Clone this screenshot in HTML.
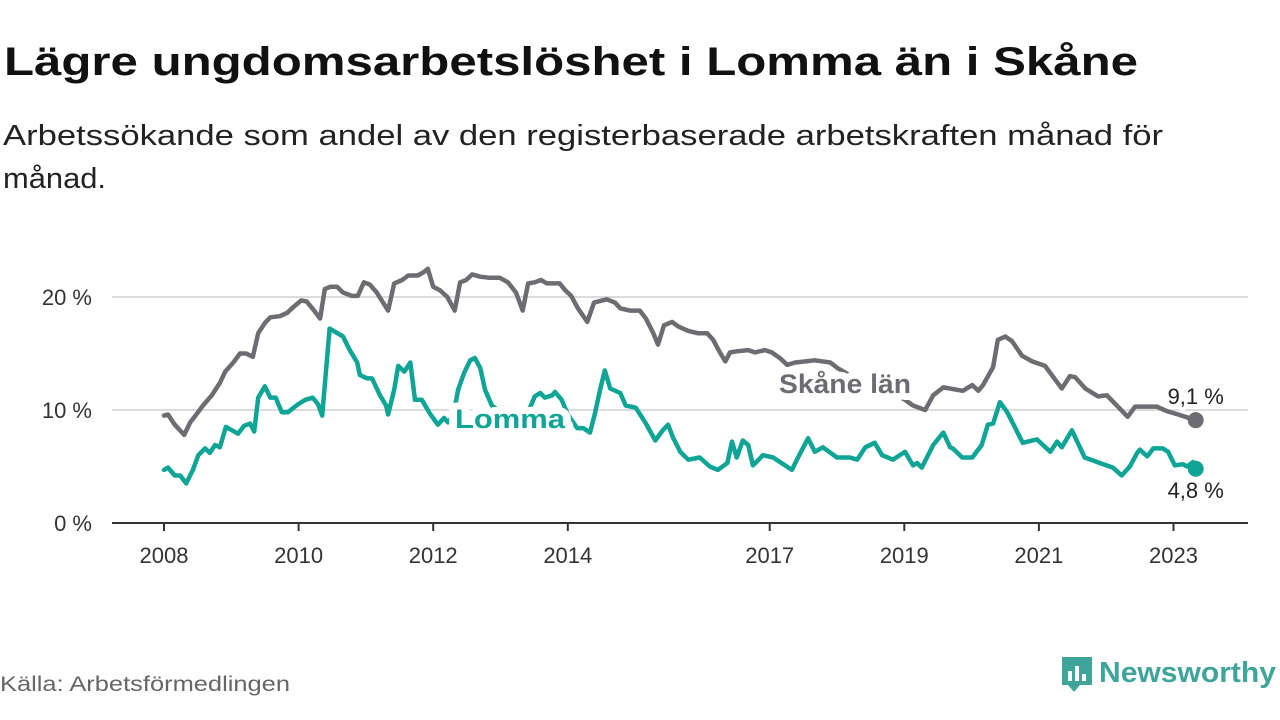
<!DOCTYPE html>
<html><head><meta charset="utf-8"><style>
html,body{margin:0;padding:0;background:#fff;width:1280px;height:720px;overflow:hidden}
svg{display:block;font-family:"Liberation Sans",sans-serif}
</style></head><body>
<svg id="chart" width="1280" height="720" viewBox="0 0 1280 720">
<text x="4" y="75" font-size="40" font-weight="bold" fill="#111" textLength="1134" lengthAdjust="spacingAndGlyphs">Lägre ungdomsarbetslöshet i Lomma än i Skåne</text>
<text x="3" y="145" font-size="29" fill="#222" textLength="1160" lengthAdjust="spacingAndGlyphs">Arbetssökande som andel av den registerbaserade arbetskraften månad för</text>
<text x="3" y="188" font-size="29" fill="#222" textLength="103" lengthAdjust="spacingAndGlyphs">månad.</text>
<g id="grid"></g><g id="axes"></g><g id="series"></g><g id="labels"></g>
<text x="0" y="691" font-size="21" fill="#666" textLength="290" lengthAdjust="spacingAndGlyphs">Källa: Arbetsförmedlingen</text>
<g>
<path d="M1062 657 h30 v28 h-12 l-6 7 l-6 -7 h-6 z" fill="#3fa59b"/>
<rect x="1068" y="671" width="4" height="10" fill="#fff"/><rect x="1075" y="666" width="4" height="15" fill="#fff"/><rect x="1082" y="674" width="4" height="7" fill="#fff"/>
<text x="1099" y="682" font-size="29" font-weight="bold" fill="#3fa59b" textLength="177" lengthAdjust="spacingAndGlyphs">Newsworthy</text>
</g>
</svg>
<script>
const yTicks=[0,10,20];
const yTickLabels=["0 %","10 %","20 %"];
const xTicks=[2008,2010,2012,2014,2017,2019,2021,2023];
const skaneDates=[2008.0,2008.06,2008.16,2008.30,2008.39,2008.48,2008.58,2008.71,2008.83,2008.91,2009.03,2009.13,2009.22,2009.32,2009.40,2009.50,2009.58,2009.72,2009.83,2009.92,2010.04,2010.12,2010.23,2010.32,2010.39,2010.47,2010.57,2010.66,2010.79,2010.88,2010.97,2011.06,2011.16,2011.33,2011.42,2011.54,2011.63,2011.77,2011.86,2011.92,2012.00,2012.10,2012.21,2012.32,2012.40,2012.49,2012.58,2012.70,2012.84,2012.99,2013.11,2013.23,2013.33,2013.41,2013.51,2013.60,2013.69,2013.81,2013.88,2013.96,2014.05,2014.15,2014.29,2014.39,2014.58,2014.70,2014.78,2014.92,2015.07,2015.16,2015.27,2015.34,2015.43,2015.55,2015.64,2015.79,2015.93,2016.07,2016.16,2016.26,2016.34,2016.41,2016.53,2016.68,2016.78,2016.93,2017.03,2017.15,2017.26,2017.38,2017.67,2017.90,2018.01,2018.27,2018.49,2018.71,2018.89,2019.01,2019.13,2019.31,2019.43,2019.58,2019.87,2020.01,2020.10,2020.17,2020.32,2020.39,2020.50,2020.60,2020.75,2020.90,2021.09,2021.34,2021.46,2021.54,2021.69,2021.88,2022.01,2022.32,2022.43,2022.75,2022.90,2023.07,2023.33];
const skaneValues=[9.5,9.6,8.7,7.8,8.9,9.6,10.4,11.3,12.4,13.4,14.2,15.0,15.0,14.7,16.8,17.7,18.2,18.3,18.6,19.1,19.7,19.6,18.8,18.1,20.7,20.9,20.9,20.4,20.1,20.1,21.3,21.1,20.4,18.8,21.2,21.5,21.9,21.9,22.2,22.5,20.9,20.6,20.0,18.8,21.3,21.5,22.0,21.8,21.7,21.7,21.3,20.4,18.8,21.2,21.3,21.5,21.2,21.2,21.2,20.6,20.1,19.0,17.8,19.5,19.8,19.5,19.0,18.8,18.8,18.1,16.8,15.8,17.5,17.8,17.4,17.0,16.8,16.8,16.2,15.1,14.3,15.1,15.2,15.3,15.1,15.3,15.1,14.6,14.0,14.2,14.4,14.2,13.7,12.8,12.2,11.6,11.3,10.9,10.4,10.0,11.3,12.0,11.7,12.2,11.7,12.2,13.8,16.2,16.5,16.1,14.8,14.3,13.9,11.9,13.0,12.9,11.9,11.2,11.3,9.4,10.3,10.3,9.9,9.6,9.1];
const lommaDates=[2008.0,2008.06,2008.16,2008.24,2008.33,2008.43,2008.51,2008.61,2008.68,2008.76,2008.83,2008.92,2009.01,2009.10,2009.19,2009.28,2009.34,2009.40,2009.50,2009.58,2009.66,2009.75,2009.84,2009.99,2010.10,2010.21,2010.29,2010.35,2010.46,2010.66,2010.76,2010.87,2010.91,2011.02,2011.09,2011.21,2011.30,2011.33,2011.42,2011.48,2011.57,2011.66,2011.73,2011.83,2011.95,2012.07,2012.16,2012.22,2012.30,2012.37,2012.46,2012.55,2012.62,2012.70,2012.77,2012.87,2013.14,2013.41,2013.51,2013.59,2013.66,2013.77,2013.81,2013.91,2014.00,2014.14,2014.23,2014.33,2014.40,2014.48,2014.55,2014.63,2014.78,2014.86,2015.01,2015.15,2015.30,2015.41,2015.49,2015.56,2015.67,2015.79,2015.96,2016.11,2016.23,2016.37,2016.44,2016.51,2016.60,2016.68,2016.75,2016.90,2017.05,2017.33,2017.42,2017.57,2017.67,2017.79,2018.00,2018.19,2018.30,2018.42,2018.56,2018.67,2018.83,2019.01,2019.13,2019.19,2019.26,2019.43,2019.58,2019.68,2019.72,2019.86,2020.01,2020.15,2020.24,2020.32,2020.42,2020.53,2020.64,2020.76,2020.97,2021.17,2021.27,2021.34,2021.49,2021.68,2021.91,2022.10,2022.23,2022.35,2022.46,2022.50,2022.61,2022.70,2022.84,2022.92,2023.02,2023.14,2023.20,2023.29,2023.33];
const lommaValues=[4.7,4.9,4.2,4.2,3.5,4.7,6.0,6.6,6.2,6.9,6.7,8.5,8.2,7.9,8.6,8.8,8.1,11.1,12.1,11.1,11.1,9.8,9.8,10.5,10.9,11.1,10.5,9.5,17.2,16.5,15.3,14.2,13.1,12.8,12.8,11.3,10.4,9.6,11.8,13.9,13.4,14.2,10.9,10.9,9.7,8.7,9.3,8.9,9.5,11.8,13.3,14.4,14.6,13.7,11.8,10.4,9.2,9.8,11.2,11.5,11.1,11.3,11.6,10.9,9.6,8.4,8.4,8.0,9.6,11.8,13.5,11.9,11.5,10.4,10.2,8.9,7.3,8.2,8.7,7.6,6.3,5.6,5.8,5.0,4.7,5.3,7.2,5.8,7.3,6.9,5.1,6.0,5.8,4.7,5.8,7.5,6.3,6.7,5.8,5.8,5.6,6.7,7.1,6.0,5.6,6.3,5.1,5.3,4.9,6.9,8.0,6.7,6.6,5.8,5.8,6.9,8.7,8.8,10.7,9.8,8.5,7.1,7.4,6.3,7.2,6.7,8.2,5.8,5.3,4.9,4.2,5.0,6.2,6.5,5.9,6.6,6.6,6.3,5.1,5.2,5.0,5.4,4.8];
const NS="http://www.w3.org/2000/svg";
function xScale(t){return 164+(t-2008)*67.3;}
function yScale(v){return 523-v*11.3;}
function mk(tag,attrs,parent){const e=document.createElementNS(NS,tag);for(const k in attrs)e.setAttribute(k,attrs[k]);parent.appendChild(e);return e;}
const grid=document.getElementById('grid'),axes=document.getElementById('axes'),series=document.getElementById('series'),labels=document.getElementById('labels');
yTicks.forEach((v,i)=>{
  if(v>0){const g=mk('line',{x1:112,x2:1248,y1:yScale(v),y2:yScale(v),stroke:'#dcdcdc','stroke-width':2},grid);
  
  }
  const t=mk('text',{x:92,y:yScale(v)+8,'font-size':22,fill:'#333','text-anchor':'end'},axes);
  t.textContent=yTickLabels[i];
  
  
});
const ax=mk('line',{x1:112,x2:1248,y1:523,y2:523,stroke:'#333','stroke-width':2},axes);


xTicks.forEach(y=>{
  const x=xScale(y);
  const tk=mk('line',{x1:x,x2:x,y1:523,y2:531,stroke:'#333','stroke-width':2},axes);
  
  
  const t=mk('text',{x:x,y:563,'font-size':22,fill:'#333','text-anchor':'middle'},axes);
  t.textContent=y;
  
  
});
function line(d,v,color,name){
  const pts=d.map((t,i)=>xScale(t).toFixed(1)+','+yScale(v[i]).toFixed(1)).join(' ');
  const p=mk('polyline',{points:pts,fill:'none',stroke:color,'stroke-width':4.5,'stroke-linejoin':'round','stroke-linecap':'round'},series);
  
  
  const n=d.length-1;
  const c=mk('circle',{cx:xScale(d[n]),cy:yScale(v[n]),r:8,fill:color},series);
  
  
  return [xScale(d[n]),yScale(v[n])];
}
const sEnd=line(skaneDates,skaneValues,'#6d6c72','skane');
const lEnd=line(lommaDates,lommaValues,'#0ea496','lomma');
function lbl(x,y,txt,color,size,bold,name,anchor,sw,len){
  const a={x:x,y:y,'font-size':size,fill:color,'font-weight':bold?'bold':'normal',stroke:'#fff','stroke-width':sw,'paint-order':'stroke','stroke-linejoin':'round','text-anchor':anchor||'start'};
  if(len){a.textLength=len;a.lengthAdjust='spacingAndGlyphs';}
  const t=mk('text',a,labels);
  t.textContent=txt;
  
  
}
lbl(779,393,'Skåne län','#6d6c72',27,true,'skane-series-label','start',14,132);
lbl(455,428,'Lomma','#0ea496',27,true,'lomma-series-label','start',14,110);
lbl(sEnd[0],sEnd[1]-16,'9,1 %','#222',22,false,'skane-end-value','middle',8);
lbl(lEnd[0],lEnd[1]+29,'4,8 %','#222',22,false,'lomma-end-value','middle',8);
</script>
</body></html>
